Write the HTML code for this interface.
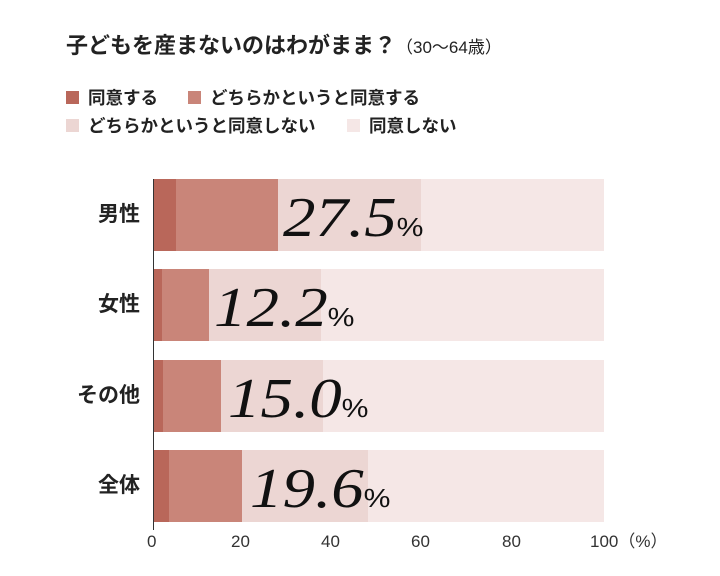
<!DOCTYPE html>
<html><head><meta charset="utf-8"><style>
body{margin:0;width:720px;height:576px;background:#fff;font-family:"Liberation Sans","Noto Sans CJK JP",sans-serif;position:relative;overflow:hidden}
.a{position:absolute;line-height:1.2}
.t{left:66px;top:33px;font-size:22px;font-weight:bold;color:#222;white-space:nowrap}
.t span{font-size:17px;font-weight:normal}
.lg{font-size:17.5px;font-weight:bold;color:#222;white-space:nowrap}
.sq{display:inline-block;width:13px;height:13px;margin-right:9px;vertical-align:0px}
.cat{font-size:21px;font-weight:bold;color:#222;width:94px;text-align:right;left:46px}
.big{font-family:"Liberation Serif",serif;font-style:italic;font-size:56px;color:#111;white-space:nowrap;transform:scaleX(1.16);transform-origin:0 0;line-height:1}
.big small{font-style:normal;font-size:26px;font-family:"Liberation Sans",sans-serif}
.tk{font-size:17px;color:#333;top:532px;white-space:nowrap}
</style></head><body>
<div class="a t">子どもを産まないのはわがまま？<span>（30〜64歳）</span></div>
<div class="a lg" style="left:66px;top:88px"><span class="sq" style="background:#b9675a"></span>同意する</div>
<div class="a lg" style="left:188px;top:88px"><span class="sq" style="background:#c98579"></span>どちらかというと同意する</div>
<div class="a lg" style="left:66px;top:116px"><span class="sq" style="background:#ecd6d3"></span>どちらかというと同意しない</div>
<div class="a lg" style="left:347px;top:116px"><span class="sq" style="background:#f5e7e6"></span>同意しない</div>

<svg class="a" style="left:0;top:0" width="720" height="576">
<rect x="153" y="179" width="451" height="72" fill="#f5e7e6"/><rect x="153" y="179" width="268" height="72" fill="#ecd6d3"/><rect x="153" y="179" width="125" height="72" fill="#c98579"/><rect x="153" y="179" width="23" height="72" fill="#b9675a"/>
<rect x="153" y="269" width="451" height="72" fill="#f5e7e6"/><rect x="153" y="269" width="168" height="72" fill="#ecd6d3"/><rect x="153" y="269" width="56" height="72" fill="#c98579"/><rect x="153" y="269" width="9" height="72" fill="#b9675a"/>
<rect x="153" y="360" width="451" height="72" fill="#f5e7e6"/><rect x="153" y="360" width="170" height="72" fill="#ecd6d3"/><rect x="153" y="360" width="68" height="72" fill="#c98579"/><rect x="153" y="360" width="10" height="72" fill="#b9675a"/>
<rect x="153" y="450" width="451" height="72" fill="#f5e7e6"/><rect x="153" y="450" width="215" height="72" fill="#ecd6d3"/><rect x="153" y="450" width="89" height="72" fill="#c98579"/><rect x="153" y="450" width="16" height="72" fill="#b9675a"/>
<line x1="153.5" y1="179" x2="153.5" y2="530" stroke="#333" stroke-width="1"/>
</svg>
<div class="a cat" style="top:202px">男性</div>
<div class="a cat" style="top:292px">女性</div>
<div class="a cat" style="top:383px">その他</div>
<div class="a cat" style="top:473px">全体</div>
<div class="a big" style="left:283px;top:190px">27.5<small>%</small></div>
<div class="a big" style="left:214px;top:280px">12.2<small>%</small></div>
<div class="a big" style="left:228px;top:371px">15.0<small>%</small></div>
<div class="a big" style="left:250px;top:461px">19.6<small>%</small></div>
<div class="a tk" style="left:147px">0</div>
<div class="a tk" style="left:231px">20</div>
<div class="a tk" style="left:321px">40</div>
<div class="a tk" style="left:411px">60</div>
<div class="a tk" style="left:502px">80</div>
<div class="a tk" style="left:590px">100（%）</div>
</body></html>
